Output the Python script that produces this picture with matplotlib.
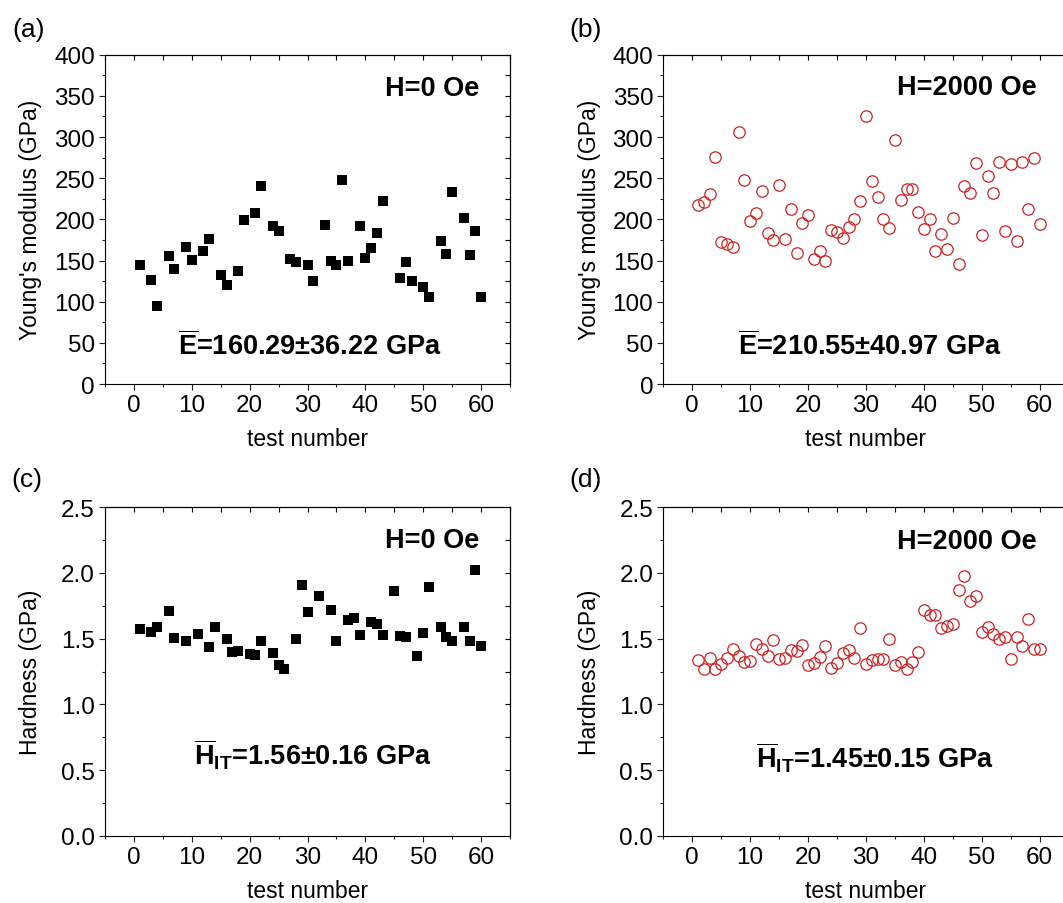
import numpy as np
import matplotlib
matplotlib.use('Agg')
import matplotlib.pyplot as plt
from matplotlib.ticker import MultipleLocator

plt.rcParams['font.family'] = ['Liberation Sans', 'DejaVu Sans']
plt.rcParams['mathtext.fontset'] = 'custom'
plt.rcParams['mathtext.rm'] = 'Liberation Sans'
plt.rcParams['mathtext.bf'] = 'Liberation Sans:bold'
plt.rcParams['axes.linewidth'] = 0.8

# ---- data ----
# (a) Young's modulus, H = 0 Oe
x_a = [1, 3, 4, 6, 7, 9, 10, 12, 13, 15, 16, 18, 19, 21, 22, 24, 25, 27, 28, 30,
       31, 33, 34, 35, 36, 37, 39, 40, 41, 42, 43, 46, 47, 48, 50, 51, 53, 54, 55, 57,
       58, 59, 60]
y_a = [145, 126, 95, 156, 140, 166, 151, 162, 176, 133, 120, 137, 199, 208, 241, 192, 186, 152, 148, 145,
       125, 193, 149, 145, 248, 150, 192, 153, 165, 184, 222, 129, 148, 125, 118, 106, 174, 158, 233, 202,
       157, 186, 106]

# (b) Young's modulus, H = 2000 Oe
x_b = list(range(1, 61))
y_b = [217.5, 221, 231, 276, 173, 170, 167, 306, 248, 198,
       208, 235, 184, 175, 242, 176, 213, 159, 195, 205,
       152, 161, 150, 187, 185, 177, 191, 200, 222, 325,
       246, 227, 200, 189, 296, 224, 237, 237, 209, 188,
       200, 162, 182, 164, 202, 146, 240, 232, 268, 181,
       253, 232, 270, 186, 267, 174, 270, 212, 275, 194]

# (c) Hardness, H = 0 Oe
x_c = [1, 3, 4, 6, 7, 9, 11, 13, 14, 16, 17, 18, 20, 21, 22, 24, 25, 26, 28, 29,
       30, 32, 34, 35, 37, 38, 39, 41, 42, 43, 45, 46, 47, 49, 50, 51, 53, 54, 55, 57,
       58, 59, 60]
y_c = [1.57, 1.55, 1.59, 1.71, 1.505, 1.48, 1.535, 1.44, 1.59, 1.50,
       1.395, 1.405, 1.385, 1.375, 1.485, 1.39, 1.30, 1.27, 1.495, 1.91,
       1.70, 1.825, 1.72, 1.485, 1.64, 1.66, 1.525, 1.63, 1.615, 1.53,
       1.865, 1.52, 1.515, 1.37, 1.545, 1.89, 1.585, 1.51, 1.485, 1.59,
       1.485, 2.02, 1.445]

# (d) Hardness, H = 2000 Oe
x_d = list(range(1, 61))
y_d = [1.335, 1.272, 1.353, 1.272, 1.31, 1.35, 1.419, 1.368, 1.322, 1.33,
       1.462, 1.421, 1.37, 1.492, 1.343, 1.353, 1.416, 1.406, 1.449, 1.30,
       1.317, 1.358, 1.444, 1.278, 1.316, 1.388, 1.414, 1.355, 1.581, 1.307,
       1.34, 1.348, 1.348, 1.495, 1.30, 1.322, 1.272, 1.325, 1.396, 1.718,
       1.678, 1.678, 1.584, 1.596, 1.612, 1.871, 1.977, 1.784, 1.825, 1.548,
       1.589, 1.536, 1.50, 1.513, 1.348, 1.513, 1.444, 1.65, 1.419, 1.421]

field_labels = ['H=0 Oe', 'H=2000 Oe', 'H=0 Oe', 'H=2000 Oe']
mean_labels = [r'$\overline{\mathbf{E}}$=160.29±36.22 GPa',
               r'$\overline{\mathbf{E}}$=210.55±40.97 GPa',
               r'$\overline{\mathbf{H}}_{\mathbf{IT}}$=1.56±0.16 GPa',
               r'$\overline{\mathbf{H}}_{\mathbf{IT}}$=1.45±0.15 GPa']
panel_tags = ['(a)', '(b)', '(c)', '(d)']

W, H = 1063, 904
red = '#cc2222'

fig = plt.figure(figsize=(W / 100, H / 100), dpi=100)


def add_ax(l, t, r, b):                      # pixel box -> figure axes
    return fig.add_axes([l / W, 1 - b / H, (r - l) / W, (b - t) / H])


def style_ax(ax, ymax, ymaj, ymin):
    ax.set_xlim(-5, 65)
    ax.set_ylim(0, ymax)
    ax.xaxis.set_major_locator(MultipleLocator(10))
    ax.xaxis.set_minor_locator(MultipleLocator(5))
    ax.yaxis.set_major_locator(MultipleLocator(ymaj))
    ax.yaxis.set_minor_locator(MultipleLocator(ymin))
    ax.tick_params(which='both', direction='out', labelsize=17.5, width=0.8, pad=3, colors='#222222')
    ax.tick_params(which='major', length=4.2)
    ax.tick_params(which='minor', length=2.5)
    for lbl in ax.get_xticklabels() + ax.get_yticklabels():
        lbl.set_color('black')
    # mirrored ticks pointing inwards on top and right
    top = ax.secondary_xaxis('top')
    top.xaxis.set_major_locator(MultipleLocator(10))
    top.xaxis.set_minor_locator(MultipleLocator(5))
    top.tick_params(which='both', direction='in', labeltop=False, width=0.8, length=3.5)
    right = ax.secondary_yaxis('right')
    right.yaxis.set_major_locator(MultipleLocator(ymaj))
    right.yaxis.set_minor_locator(MultipleLocator(ymin))
    right.tick_params(which='both', direction='in', labelright=False, width=0.8, length=3.5)
    if ymaj >= 1:
        ax.yaxis.set_major_formatter(plt.FormatStrFormatter('%d'))
    else:
        ax.yaxis.set_major_formatter(plt.FormatStrFormatter('%.1f'))


boxes = [(105, 55.7, 510, 385), (663.3, 55.7, 1068.7, 385),
         (105, 508.3, 510, 836.7), (663.3, 508.3, 1068.7, 836.7)]
axs = [add_ax(*b) for b in boxes]

axs[0].plot(x_a, y_a, 's', color='black', ms=7.2, mew=0)
axs[1].plot(x_b, y_b, 'o', mfc='none', mec=red, ms=8.2, mew=0.9)
axs[2].plot(x_c, y_c, 's', color='black', ms=7.2, mew=0)
axs[3].plot(x_d, y_d, 'o', mfc='none', mec=red, ms=8.2, mew=0.9)

for i, ax in enumerate(axs):
    if i < 2:
        style_ax(ax, 400, 50, 25)
    else:
        style_ax(ax, 2.5, 0.5, 0.25)

# field strength labels (top right)
field_pos = [(0.925, 0.878), (0.922, 0.880), (0.925, 0.878), (0.922, 0.877)]
for ax, txt, (fx, fy) in zip(axs, field_labels, field_pos):
    ax.text(fx, fy, txt, transform=ax.transAxes, ha='right', va='baseline',
            fontsize=19.5, fontweight='bold')

# mean +- std labels
mean_pos = [(0.506, 0.091), (0.51, 0.091), (0.514, 0.216), (0.522, 0.208)]
for ax, txt, (fx, fy) in zip(axs, mean_labels, mean_pos):
    ax.text(fx, fy, txt, transform=ax.transAxes, ha='center', va='baseline',
            fontsize=19.5, fontweight='bold')

# panel tags, axis titles
tag_pos = [(12, 30.5), (569, 30.5), (11, 480), (569, 480)]
for (px, py), tag in zip(tag_pos, panel_tags):
    fig.text(px / W, 1 - py / H, tag, ha='left', va='center', fontsize=19)

for (l, t, r, b), i in zip(boxes, range(4)):
    ylab = "Young's modulus (GPa)" if i < 2 else 'Hardness (GPa)'
    fig.text((l - 74) / W, 1 - ((t + b) / 2) / H, ylab, rotation=90,
             ha='center', va='center', fontsize=16.5)
    xc = (l + min(r, 1068.7)) / 2 if i % 2 == 0 else 866
    fig.text(xc / W, 1 - (b + 55) / H, 'test number', ha='center', va='center', fontsize=16.5)

fig.savefig('out.png', dpi=100)
